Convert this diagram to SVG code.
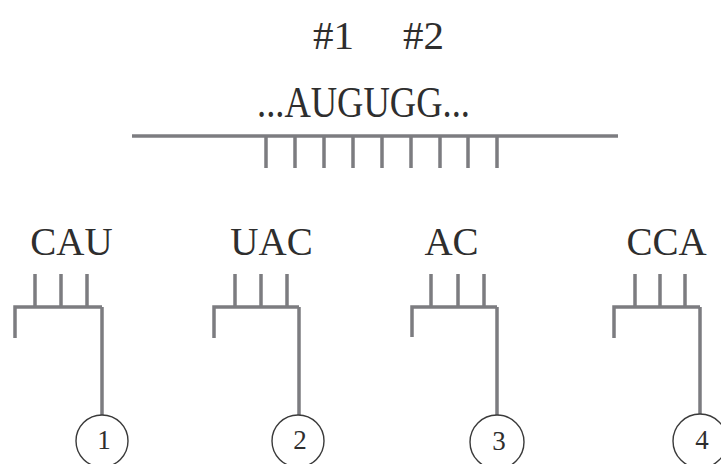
<svg xmlns="http://www.w3.org/2000/svg" width="721" height="464" viewBox="0 0 721 464">
<style>
text{font-family:"Liberation Serif","DejaVu Serif",serif;fill:#2e2e2e}
.ln{stroke:#7c7c80;fill:none;stroke-width:3.5}
.tk{stroke:#7c7c80;fill:none;stroke-width:3.5}
.cir{stroke:#3a3a3a;fill:#fff;stroke-width:1.4}
.lab{font-size:39px;text-anchor:middle}
.num{font-size:27px;text-anchor:middle}
</style>
<rect width="721" height="464" fill="#fff"/>
<g id="mrna">
<text x="313" y="49" font-size="41">#1<tspan x="403">#2</tspan></text>
<text x="363.5" y="117" font-size="45" text-anchor="middle" textLength="213" lengthAdjust="spacingAndGlyphs">...AUGUGG...</text>
<line class="ln" x1="132" y1="136" x2="618" y2="136" stroke-width="4"/>
<path class="tk" d="M266 136V168M295 136V168M324 136V168M353 136V168M382 136V168M411 136V168M440 136V168M468 136V168M497 136V168"/>
</g>
<g id="connectors">
<path class="ln" d="M102 307V415M299 307V415M497 307V416M700 307V415"/>
</g>
<g id="trna1">
<text class="lab" x="71.5" y="255">CAU</text>
<path class="tk" d="M35 274V307M61 274V307M87 274V307"/>
<path class="ln" d="M15 338V307H102"/>
</g>
<g id="trna2">
<text class="lab" x="271.5" y="255">UAC</text>
<path class="tk" d="M235 274V307M261 274V307M287 274V307"/>
<path class="ln" d="M214 338V307H299"/>
</g>
<g id="trna3">
<text class="lab" x="451.5" y="255">AC</text>
<path class="tk" d="M431 274V307M458 274V307M484 274V307"/>
<path class="ln" d="M412 337V307H497"/>
</g>
<g id="trna4">
<text class="lab" x="666.5" y="255">CCA</text>
<path class="tk" d="M635 274V307M660 274V307M685 274V307"/>
<path class="ln" d="M614 338V307H700"/>
</g>
<g id="c1"><circle class="cir" cx="102" cy="441" r="26"/><text class="num" x="104" y="449">1</text></g>
<g id="c2"><circle class="cir" cx="298" cy="441" r="26"/><text class="num" x="300" y="449">2</text></g>
<g id="c3"><circle class="cir" cx="497" cy="442" r="27"/><text class="num" x="499" y="450">3</text></g>
<g id="c4"><circle class="cir" cx="700" cy="441" r="27"/><text class="num" x="702" y="449">4</text></g>
</svg>
